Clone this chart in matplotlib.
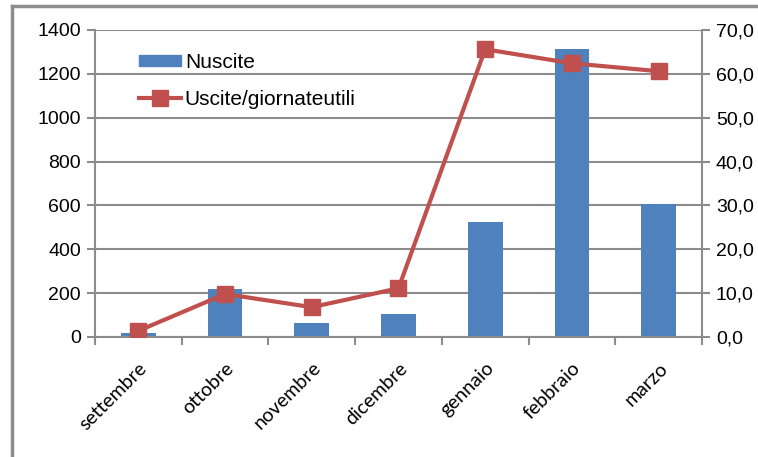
import matplotlib.pyplot as plt
from matplotlib.lines import Line2D
import numpy as np

# monthly outings and outings per working day
mesi = ['settembre', 'ottobre', 'novembre', 'dicembre', 'gennaio', 'febbraio', 'marzo']
n_uscite = [17, 219, 62, 104, 526, 1313, 607]
uscite_giornate = [1.4, 9.8, 6.8, 11.1, 65.6, 62.4, 60.6]

blu = '#4F81BD'
rosso = '#C0504D'
grigio = '#8C8C8C'

fig = plt.figure(figsize=(7.58, 4.57), dpi=100)
ax = fig.add_axes([0.1253, 0.2626, 0.8008, 0.6718])
ax2 = ax.twinx()

x = np.arange(len(mesi))
ax.bar(x, n_uscite, width=0.4, color=blu, zorder=2, label='Nuscite')
ax2.plot(x, uscite_giornate, color=rosso, lw=3, marker='s', ms=11.5,
         label='Uscite/giornateutili', zorder=3)

ax.set_xlim(-0.5, len(mesi) - 0.5)
ax.set_ylim(0, 1400)
ax2.set_ylim(0, 70)
ax.set_yticks(range(0, 1401, 200))
ax2.set_yticks(range(0, 71, 10))
ax2.set_yticklabels([f'{v},0' for v in range(0, 71, 10)])

ax.grid(axis='y', color=grigio, lw=1.5, zorder=0)
ax.set_axisbelow(True)

# category boundaries carry the x ticks, labels sit at the centres
ax.set_xticks(np.arange(-0.5, len(mesi), 1.0))
ax.set_xticklabels([])
ax.set_xticks(x, minor=True)
ax.set_xticklabels(mesi, minor=True, rotation=45, ha='right', rotation_mode='anchor',
                   fontsize=14, family='Lato')
ax.tick_params(axis='x', which='minor', length=0, pad=16)
ax.tick_params(axis='x', which='major', length=6, width=1.5, color=grigio)

for a in (ax, ax2):
    for s in a.spines.values():
        s.set_visible(False)
    a.tick_params(axis='y', length=6, width=1.5, color=grigio, labelsize=14, pad=4)
    for lab in a.get_yticklabels():
        lab.set_family('Liberation Sans')
ax.spines['left'].set_visible(True)
ax.spines['bottom'].set_visible(True)
ax2.spines['right'].set_visible(True)
for s in (ax.spines['left'], ax.spines['bottom'], ax2.spines['right']):
    s.set_color(grigio)
    s.set_linewidth(1.5)

handles = [plt.Rectangle((0, 0), 1, 1, color=blu),
           Line2D([], [], color=rosso, lw=3, marker='s', ms=11.5)]
ax.legend(handles, ['Nuscite', 'Uscite/giornateutili'], loc='upper left',
          bbox_to_anchor=(0.0725, 0.925), frameon=False, borderpad=0,
          borderaxespad=0, handlelength=2.0, handleheight=0.45, labelspacing=0.85,
          handletextpad=0.2, prop={'family': 'Liberation Sans', 'size': 15})

# outer chart frame (top and left edges only)
fig.add_artist(Line2D([12 / 758, 12 / 758], [0, 1 - 6 / 457], color=grigio, lw=2.5,
                      transform=fig.transFigure))
fig.add_artist(Line2D([12 / 758, 1], [1 - 6 / 457, 1 - 6 / 457], color=grigio, lw=2.5,
                      transform=fig.transFigure))

fig.savefig('out.png', dpi=100)
